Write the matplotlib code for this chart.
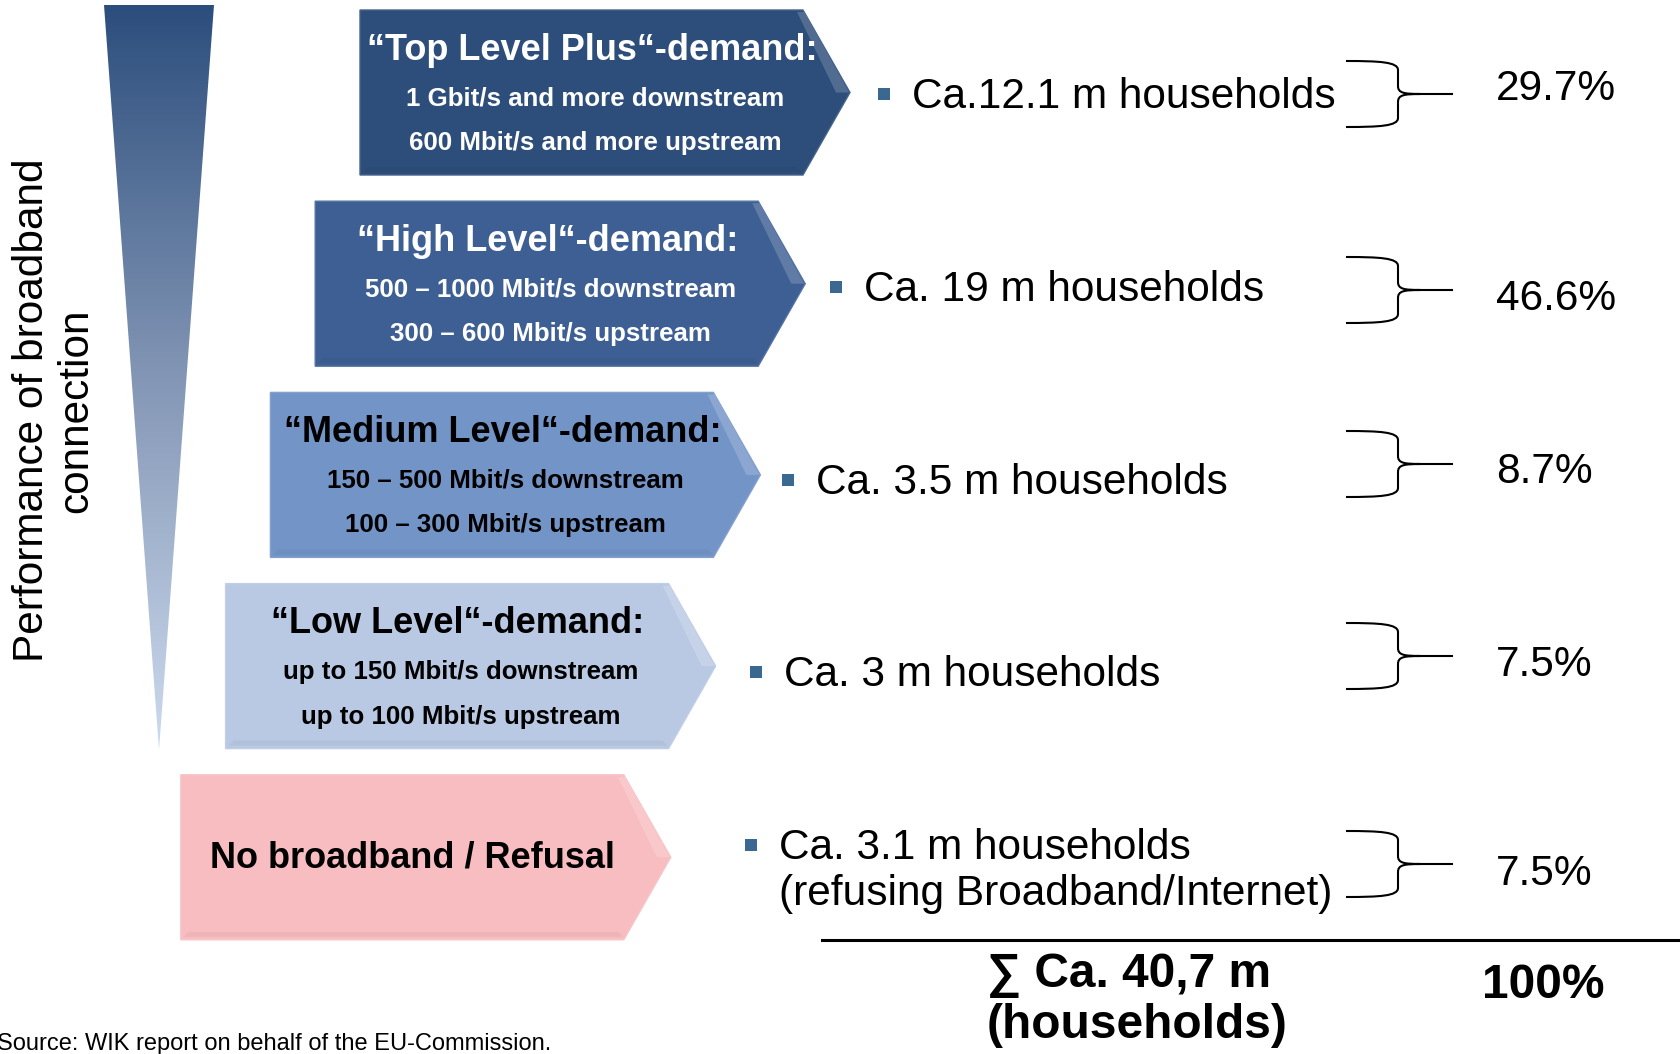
import matplotlib
matplotlib.use("Agg")
import matplotlib.pyplot as plt
import numpy as np
from matplotlib.patches import Polygon, Rectangle, PathPatch
from matplotlib.path import Path
from matplotlib.colors import LinearSegmentedColormap, to_rgb

# ---- data -------------------------------------------------------------
levels = ["\u201cTop Level Plus\u201c-demand:", "\u201cHigh Level\u201c-demand:",
          "\u201cMedium Level\u201c-demand:", "\u201cLow Level\u201c-demand:",
          "No broadband / Refusal"]
downstream = ["1 Gbit/s and more downstream", "500 \u2013 1000 Mbit/s downstream",
              "150 \u2013 500 Mbit/s downstream", "up to 150 Mbit/s downstream", ""]
upstream = ["600 Mbit/s and more upstream", "300 \u2013 600 Mbit/s upstream",
            "100 \u2013 300 Mbit/s upstream", "up to 100 Mbit/s upstream", ""]
households = ["Ca.12.1 m households", "Ca. 19 m households", "Ca. 3.5 m households",
              "Ca. 3 m households", "Ca. 3.1 m households\n(refusing Broadband/Internet)"]
shares = [29.7, 46.6, 8.7, 7.5, 7.5]
total_label = "\u2211 Ca. 40,7 m\n(households)"
total_share = "100%"
axis_label = ["Performance of broadband", "connection"]
source = "Source: WIK report on behalf of the EU-Commission."

# ---- styles / layout --------------------------------------------------
box_colors = ["#2d4e7a", "#3d5f94", "#7394c7", "#b9c9e3", "#f7bdc0"]
text_colors = ["white", "white", "black", "black", "black"]
bullet_color = "#3a6891"
hh_x = [912, 864, 816, 784, 779]
hh_y = [97, 290, 483, 675, 848]
brace_mid = [94, 290, 464, 656, 864]
pct_y = [89, 299, 472, 665, 874]

FONT = "Liberation Sans"
plt.rcParams["font.family"] = [FONT, "DejaVu Sans"]

W, H = 1680, 1054
fig = plt.figure(figsize=(W / 100, H / 100), dpi=100)
ax = fig.add_axes([0, 0, 1, 1])
ax.set_xlim(0, W)
ax.set_ylim(H, 0)
ax.axis("off")


def mix(c, t, amount):
    c, t = np.array(to_rgb(c)), np.array(to_rgb(t))
    return tuple(c + (t - c) * amount)


# ---- gradient wedge ----------------------------------------------------
wedge = Polygon([(104, 5), (214, 5), (159, 750)], closed=True,
                facecolor="none", edgecolor="none")
ax.add_patch(wedge)
cmap = LinearSegmentedColormap.from_list("wedge", ["#2c4e7d", "#8396b5", "#cddbee"])
grad = np.linspace(0, 1, 256).reshape(-1, 1)
im = ax.imshow(grad, cmap=cmap, extent=(104, 214, 750, 5), aspect="auto",
               interpolation="bicubic", zorder=1)
im.set_clip_path(wedge)
ax.set_xlim(0, W)
ax.set_ylim(H, 0)

ax.text(32, 410, axis_label[0], rotation=90, ha="center", va="center",
        fontsize=30.5, color="black")
ax.text(76, 411, axis_label[1], rotation=90, ha="center", va="center",
        fontsize=30.5, color="black")

# ---- chevron boxes -----------------------------------------------------
bw, tip, bh = 443, 47, 165
for i, lvl in enumerate(levels):
    x0 = 360 - 44.8 * i
    y0 = 10 + 191.2 * i
    x1 = x0 + bw
    ym = y0 + bh / 2
    col = box_colors[i]
    ax.add_patch(Polygon([(x0, y0), (x1, y0), (x1 + tip, ym), (x1, y0 + bh), (x0, y0 + bh)],
                         closed=True, facecolor=col, edgecolor=mix(col, "white", 0.12),
                         lw=1.0, zorder=2))
    # bevel: lighter strip along the upper diagonal of the tip
    ax.add_patch(Polygon([(x1 - 6, y0 + 2), (x1 + 1, y0 + 2), (x1 + tip - 1, ym), (x1 + tip - 14, ym)],
                         closed=True, facecolor=mix(col, "white", 0.25), edgecolor="none",
                         alpha=0.7, zorder=3))
    ax.add_patch(Polygon([(x0 + 3, y0 + bh - 3), (x1 - 1, y0 + bh - 3), (x1 - 6, y0 + bh - 8),
                          (x0 + 8, y0 + bh - 8)], closed=True,
                         facecolor=mix(col, "black", 0.04), edgecolor="none", zorder=3))
    cx = x0 + 232
    tc = text_colors[i]
    if downstream[i]:
        ax.text(cx, y0 + 40, lvl, ha="center", va="center", fontsize=26,
                fontweight="bold", color=tc, zorder=4)
        ax.text(cx + 3, y0 + 88, downstream[i], ha="center", va="center", fontsize=18.6,
                fontweight="bold", color=tc, zorder=4)
        ax.text(cx + 3, y0 + 133, upstream[i], ha="center", va="center", fontsize=18.6,
                fontweight="bold", color=tc, zorder=4)
    else:
        ax.text(cx, y0 + 83, lvl, ha="center", va="center", fontsize=26,
                fontweight="bold", color=tc, zorder=4)

# ---- household counts, braces, shares ---------------------------------
for i, hh in enumerate(households):
    ax.add_patch(Rectangle((hh_x[i] - 34, hh_y[i] - 9), 12, 12,
                           facecolor=bullet_color, edgecolor="none"))
    for k, line in enumerate(hh.split("\n")):
        ax.text(hh_x[i], hh_y[i] + 46 * k, line, ha="left", va="center",
                fontsize=30.5, color="black")

    m = brace_mid[i]
    top, bot = m - 33, m + 33
    verts = [(1346, top), (1380, top), (1398, top + 1), (1398, top + 9),
             (1398, m - 8),
             (1398, m - 1), (1404, m), (1420, m),
             (1404, m), (1398, m + 1), (1398, m + 8),
             (1398, bot - 9),
             (1398, bot - 1), (1380, bot), (1346, bot)]
    codes = [Path.MOVETO, Path.CURVE4, Path.CURVE4, Path.CURVE4,
             Path.LINETO,
             Path.CURVE4, Path.CURVE4, Path.CURVE4,
             Path.CURVE4, Path.CURVE4, Path.CURVE4,
             Path.LINETO,
             Path.CURVE4, Path.CURVE4, Path.CURVE4]
    ax.add_patch(PathPatch(Path(verts, codes), facecolor="none", edgecolor="black", lw=1.5))
    ax.plot([1410, 1452], [m, m], color="black", lw=1.5)

    ax.text(1496, pct_y[i], f"{shares[i]:.1f}%", ha="left", va="center",
            fontsize=30.5, color="black")

# ---- total --------------------------------------------------------------
ax.plot([822, W], [940, 940], color="black", lw=2.2)
tl = total_label.split("\n")
ax.text(987, 975, tl[0], ha="left", va="center", fontsize=34.5, fontweight="bold",
        family=[FONT, "DejaVu Sans"])
ax.text(987, 1026, tl[1], ha="left", va="center", fontsize=34.5, fontweight="bold")
ax.text(1482, 985, total_share, ha="left", va="center", fontsize=34.5, fontweight="bold")

ax.text(-3, 1044, source, ha="left", va="center", fontsize=17, color="black")

fig.savefig("out.png", dpi=100)
